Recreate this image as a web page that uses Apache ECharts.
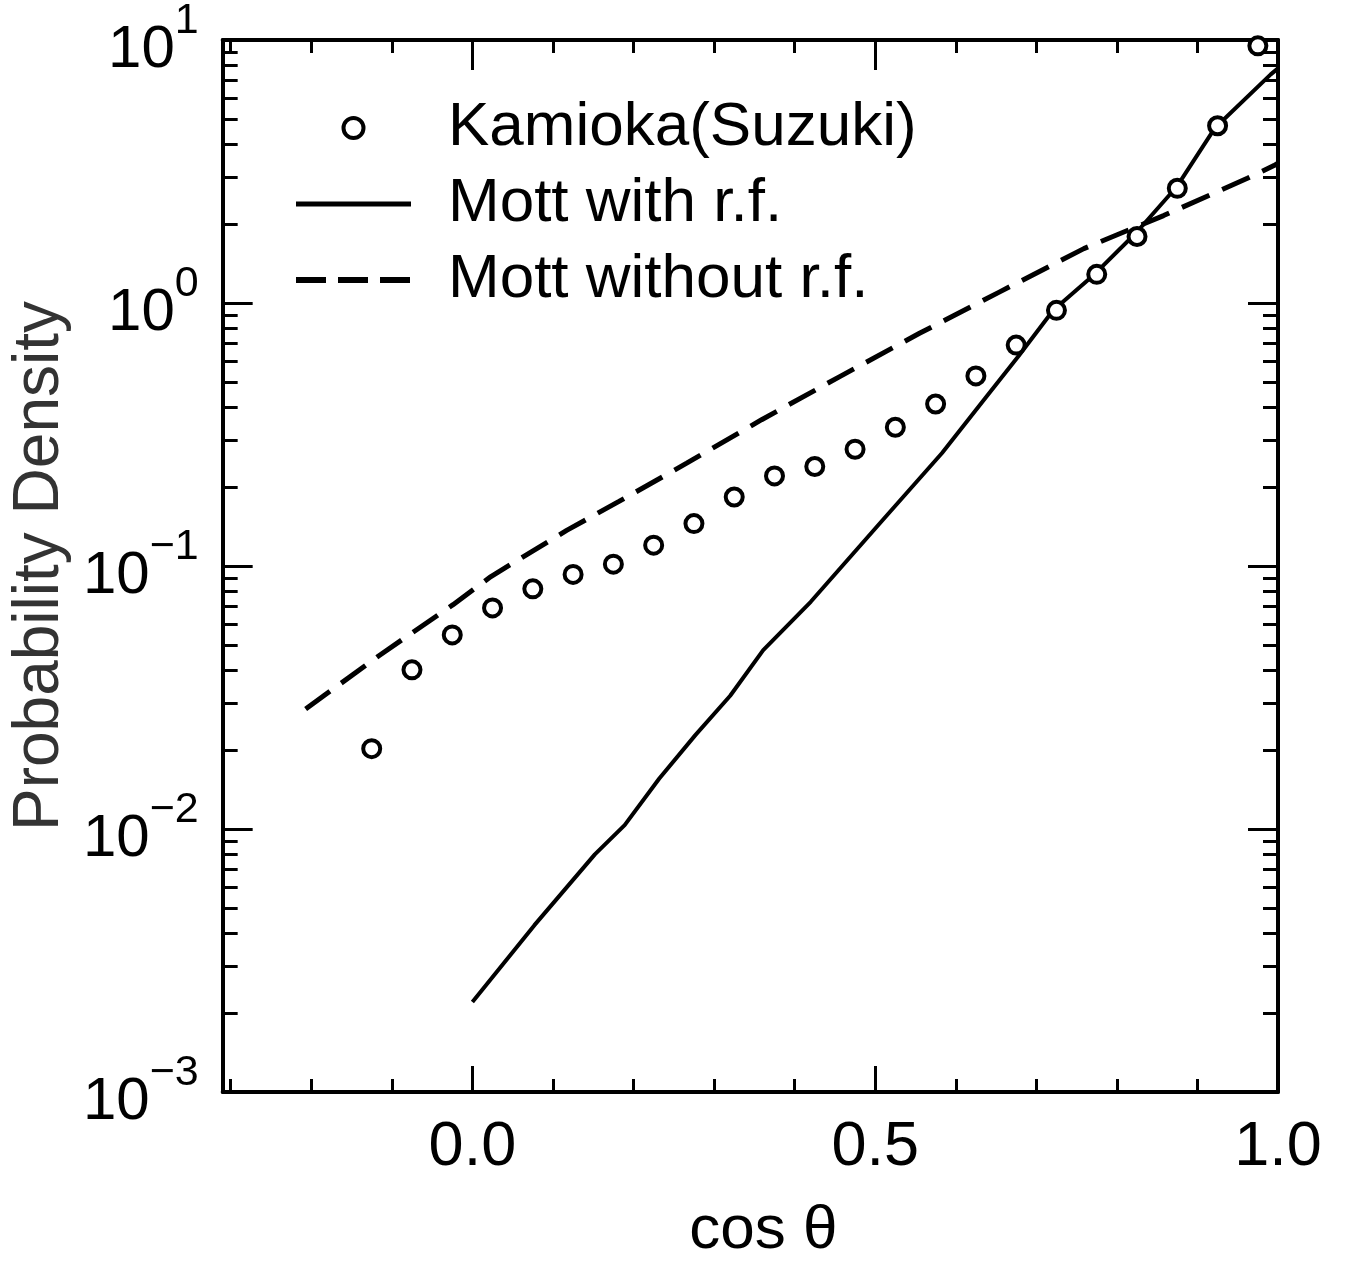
<!DOCTYPE html>
<html><head><meta charset="utf-8">
<script src="https://cdn.jsdelivr.net/npm/echarts@6/dist/echarts.min.js"></script>
<style>html,body{margin:0;padding:0;background:#fff}#c{width:1345px;height:1267px}</style>
</head><body><div id="c"></div>
<script>
// ---- data ----
const kamiokaX = [-0.125,-0.075,-0.025,0.025,0.075,0.125,0.175,0.225,0.275,0.325,0.375,0.425,0.475,0.525,0.575,0.625,0.675,0.725,0.775,0.825,0.875,0.925,0.975];
const kamiokaY = [0.0202,0.0403,0.0547,0.0693,0.0819,0.0929,0.1016,0.120,0.145,0.183,0.220,0.239,0.278,0.337,0.413,0.528,0.692,0.938,1.285,1.79,2.73,4.72,9.5];

const mottRfX = [0.000,0.077,0.152,0.189,0.232,0.277,0.320,0.361,0.420,0.508,0.583,0.637,0.678,0.721,0.772,0.824,0.874,0.922,0.991,1.000];
const mottRfY = [0.00220,0.00431,0.00801,0.01035,0.01556,0.0228,0.0321,0.0479,0.0731,0.148,0.269,0.436,0.629,0.938,1.284,1.85,2.76,4.64,7.40,7.8];

const mottNoRfX = [-0.207,-0.116,-0.024,0.023,0.117,0.182,0.266,0.359,0.456,0.555,0.654,0.759,0.858,0.962,0.995,1.000];
const mottNoRfY = [0.0286,0.0456,0.0713,0.0912,0.1366,0.176,0.246,0.360,0.525,0.767,1.10,1.61,2.15,2.98,3.33,3.4];

const xMajorTicks = [0.0, 0.5, 1.0];
const xMinorTicks = [-0.3,-0.2,-0.1,0.1,0.2,0.3,0.4,0.6,0.7,0.8,0.9];
const yMajorTicks = [0.001, 0.01, 0.1, 1, 10];
const yMinorTicks = [0.002,0.003,0.004,0.005,0.006,0.007,0.008,0.009,
                     0.02,0.03,0.04,0.05,0.06,0.07,0.08,0.09,
                     0.2,0.3,0.4,0.5,0.6,0.7,0.8,0.9,
                     2,3,4,5,6,7,8,9];
const xMin = -0.31, xMax = 1.0, yMin = 0.001, yMax = 10;

const FONT = '"Liberation Sans", Arial, Helvetica, sans-serif';
const zip = (a, b) => a.map((v, i) => [v, b[i]]);

function xAxisDef(position, ticks, len, major, withLabel) {
  return {
    type: 'value', position, min: xMin, max: xMax,
    axisLine: { show: major, onZero: false, lineStyle: { color: '#000', width: 4 } },
    axisTick: { show: true, inside: true, length: len, customValues: ticks, lineStyle: { color: '#000', width: 3 } },
    axisLabel: withLabel ? { show: true, customValues: ticks, formatter: v => v.toFixed(1), fontSize: 63, fontFamily: FONT, color: '#000', margin: 24 } : { show: false },
    splitLine: { show: false },
    name: withLabel ? 'cos \u03b8' : '',
    nameLocation: 'middle', nameGap: 108,
    nameTextStyle: { fontSize: 62, fontFamily: FONT, color: '#000', padding: [0, 0, 0, 26] }
  };
}
function yAxisDef(position, ticks, len, major, withLabel) {
  return {
    type: 'log', logBase: 10, position, min: yMin, max: yMax,
    axisLine: { show: major, onZero: false, lineStyle: { color: '#000', width: 4 } },
    axisTick: { show: true, inside: true, length: len, customValues: ticks, lineStyle: { color: '#000', width: 3 } },
    axisLabel: withLabel ? {
      show: true, customValues: ticks, margin: 24,
      formatter: v => { const e = Math.round(Math.log10(v)); return '{b|10}{s|' + (e < 0 ? '\u2212' + (-e) : e) + '}'; },
      rich: {
        b: { fontSize: 60, fontFamily: FONT, color: '#000', verticalAlign: 'bottom', lineHeight: 80 },
        s: { fontSize: 43, fontFamily: FONT, color: '#000', verticalAlign: 'top', lineHeight: 80 }
      }
    } : { show: false },
    splitLine: { show: false }, minorTick: { show: false },
    name: withLabel ? 'Probability Density' : '',
    nameLocation: 'middle', nameGap: 150, nameRotate: 90,
    nameTextStyle: { fontSize: 64, fontFamily: FONT, color: '#333' }
  };
}

const hiddenSym = { color: 'rgba(0,0,0,0)', borderWidth: 0, opacity: 0 };
const chart = echarts.init(document.getElementById('c'), null, { renderer: 'canvas' });
chart.setOption({
  animation: false,
  backgroundColor: '#fff',
  grid: { left: 216, right: 67, top: 31, bottom: 164, containLabel: false },
  xAxis: [
    xAxisDef('bottom', xMajorTicks, 26, true, true),
    xAxisDef('bottom', xMinorTicks, 13, false, false),
    xAxisDef('top', xMajorTicks, 30, true, false),
    xAxisDef('top', xMinorTicks, 13, false, false)
  ],
  yAxis: [
    yAxisDef('left', yMajorTicks, 30, true, true),
    yAxisDef('left', yMinorTicks, 15, false, false),
    yAxisDef('right', yMajorTicks, 30, true, false),
    yAxisDef('right', yMinorTicks, 15, false, false)
  ],
  legend: {
    orient: 'vertical', left: 288, top: 92,
    itemWidth: 115, itemHeight: 20, itemGap: 14,
    textStyle: { fontSize: 62, fontFamily: FONT, color: '#000', padding: [0, 0, 0, 32] },
    data: [
      { name: 'Kamioka(Suzuki)', itemStyle: { color: '#fff', borderColor: '#000', borderWidth: 4 } },
      { name: 'Mott with r.f.', itemStyle: hiddenSym, lineStyle: { color: '#000', width: 5 } },
      { name: 'Mott without r.f.', itemStyle: hiddenSym, lineStyle: { color: '#000', width: 6, type: [30, 12] } }
    ]
  },
  series: [
    { name: 'Mott with r.f.', type: 'line', xAxisIndex: 0, yAxisIndex: 0,
      data: zip(mottRfX, mottRfY), symbol: 'none', smooth: false, z: 2,
      lineStyle: { color: '#000', width: 4 }, itemStyle: { color: '#000' } },
    { name: 'Mott without r.f.', type: 'line', xAxisIndex: 0, yAxisIndex: 0,
      data: zip(mottNoRfX, mottNoRfY), symbol: 'none', smooth: false, z: 2,
      lineStyle: { color: '#000', width: 5, type: [30, 14] }, itemStyle: { color: '#000' } },
    { name: 'Kamioka(Suzuki)', type: 'scatter', xAxisIndex: 0, yAxisIndex: 0,
      data: zip(kamiokaX, kamiokaY), symbol: 'circle', symbolSize: 17, z: 3,
      itemStyle: { color: '#fff', borderColor: '#000', borderWidth: 4, opacity: 1 } }
  ]
});
</script></body></html>
